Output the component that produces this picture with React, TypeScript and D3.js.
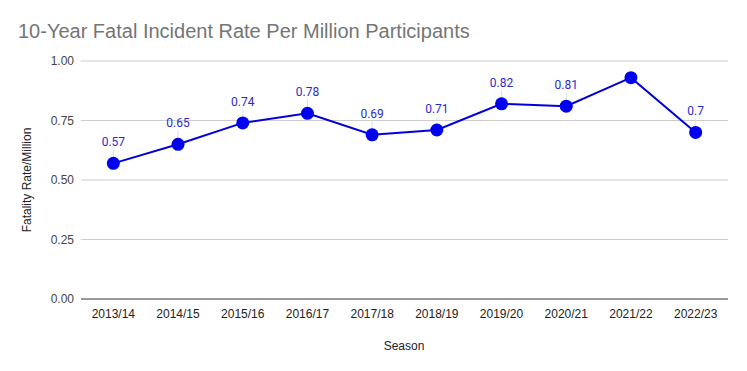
import React from "react";
import * as d3 from "d3";

const seasons = ["2013/14","2014/15","2015/16","2016/17","2017/18","2018/19","2019/20","2020/21","2021/22","2022/23"];
const rates = [0.57, 0.65, 0.74, 0.78, 0.69, 0.71, 0.82, 0.81, 0.93, 0.7];
const labels = ["0.57","0.65","0.74","0.78","0.69","0.71","0.82","0.81","","0.7"];
const yTicks = [0, 0.25, 0.5, 0.75, 1.0];

export default function App() {
  const W = 747, H = 371;
  const left = 81, right = 728, top = 61, bottom = 299;
  const x = d3.scaleBand<string>().domain(seasons).range([left, right]);
  const y = d3.scaleLinear().domain([0, 1]).range([bottom, top]);
  const cx = (s: string) => (x(s) as number) + x.bandwidth() / 2;
  const line = d3.line<number>().x((_, i) => cx(seasons[i])).y(d => y(d));
  const font = "Arial, 'Liberation Sans', sans-serif";
  return (
    <svg width={W} height={H} style={{ position: "absolute", left: 0, top: 0, background: "#fff" }}>
      <text x={18} y={38} fontFamily={font} fontSize={20} fill="#757575">10-Year Fatal Incident Rate Per Million Participants</text>
      {yTicks.map(t => (
        <g key={t}>
          <line x1={left} x2={right} y1={y(t)} y2={y(t)} stroke={t === 0 ? "#333" : "#ccc"} strokeWidth={1} />
          <text x={74} y={y(t) + 4} textAnchor="end" fontFamily={font} fontSize={12} fill="#444">{t.toFixed(2)}</text>
        </g>
      ))}
      {seasons.map(s => (
        <text key={s} x={cx(s)} y={318} textAnchor="middle" fontFamily={font} fontSize={12} fill="#222">{s}</text>
      ))}
      <text x={404} y={350} textAnchor="middle" fontFamily={font} fontSize={12} fill="#222">Season</text>
      <text transform={`translate(31,${(top + bottom) / 2}) rotate(-90)`} textAnchor="middle" fontFamily={font} fontSize={12} fill="#222">Fatality Rate/Million</text>
      {rates.map((r, i) => labels[i] ? (
        <line key={"l" + i} x1={cx(seasons[i])} x2={cx(seasons[i])} y1={y(r) - 14} y2={y(r) - 6} stroke="#e0e0e0" strokeWidth={1} />
      ) : null)}
      <path d={line(rates) as string} fill="none" stroke="#0000dd" strokeWidth={2} />
      {rates.map((r, i) => (
        <circle key={i} cx={cx(seasons[i])} cy={y(r)} r={6.5} fill="#0000f0" />
      ))}
      {rates.map((r, i) => labels[i] ? (
        <text key={"t" + i} x={cx(seasons[i])} y={y(r) - 17} textAnchor="middle" fontFamily="Roboto, sans-serif" fontSize={12} fill="#2a2acc">{labels[i]}</text>
      ) : null)}
    </svg>
  );
}
